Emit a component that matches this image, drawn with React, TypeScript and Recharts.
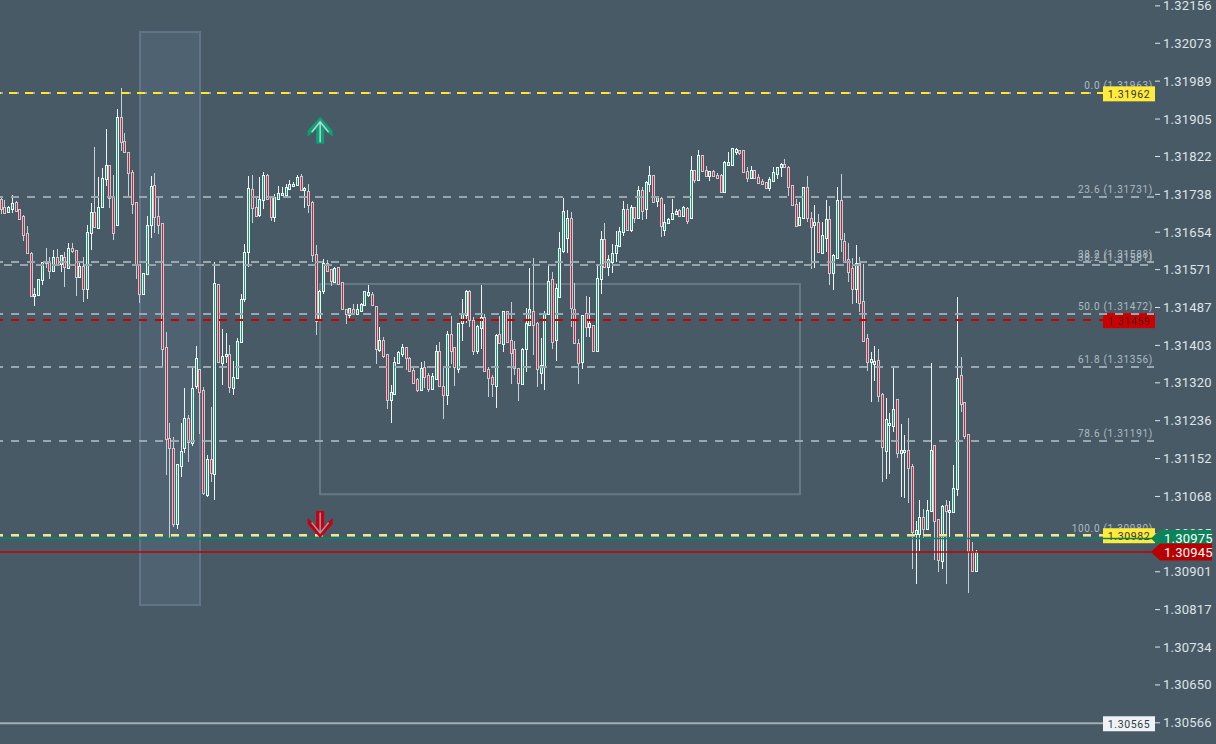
import {
  Bar,
  ComposedChart,
  ReferenceArea,
  ReferenceDot,
  ReferenceLine,
  XAxis,
  YAxis,
} from 'recharts';

// candle values are points above 1.30000
const opens = [
  1727,1709,1699,1706,1722,1705,1690,1652,1609,1513,
  1515,1547,1589,1588,1569,1598,1583,1600,1575,1618,
  1614,1555,1578,1527,1652,1698,1664,1711,1771,1802,
  1731,1671,1909,1856,1831,1787,1720,1583,1518,1561,
  1671,1758,1689,1674,1399,1197,1175,1008,1136,1176,
  1241,1187,1313,1350,1303,1071,1150,1117,1539,1365,
  1380,1385,1308,1331,1411,1507,1611,1749,1709,1693,
  1725,1780,1731,1687,1728,1737,1737,1750,1756,1759,
  1778,1747,1746,1722,1605,1459,1523,1585,1572,1544,
  1576,1543,1483,1470,1483,1473,1480,1492,1515,1518,
  1491,1393,1416,1385,1282,1296,1365,1384,1399,1375,
  1348,1328,1304,1355,1337,1307,1329,1391,1314,1294,
  1428,1399,1351,1452,1471,1524,1459,1391,1442,1467,
  1351,1332,1314,1428,1406,1479,1414,1396,1352,1318,
  1396,1448,1479,1453,1342,1356,1473,1550,1416,1511,
  1613,1641,1685,1483,1408,1367,1475,1444,1448,1391,
  1550,1640,1576,1589,1609,1624,1654,1705,1659,1709,
  1686,1747,1705,1762,1780,1724,1729,1659,1674,1683,
  1695,1703,1691,1708,1686,1792,1770,1825,1793,1779,
  1789,1781,1782,1744,1803,1803,1833,1836,1836,1789,
  1775,1792,1776,1768,1765,1752,1768,1784,1798,1805,
  1799,1759,1716,1670,1685,1754,1685,1671,1676,1609,
  1642,1683,1564,1596,1725,1635,1594,1574,1528,1585,
  1501,1419,1366,1362,1370,1295,1169,1227,1224,1284,
  1165,1167,1172,1135,985,985,1022,996,1036,1181,
  1017,925,1048,1034,1034,1084,1337,1277,1206,948,903,
];
const highs = [
  1733,1725,1712,1736,1724,1705,1692,1668,1610,1530,
  1550,1589,1618,1600,1614,1616,1603,1610,1629,1629,
  1614,1591,1600,1670,1718,1844,1776,1796,1884,1803,
  1780,1927,1973,1873,1833,1792,1722,1583,1563,1690,
  1778,1785,1734,1674,1433,1231,1200,1140,1230,1308,
  1248,1352,1402,1351,1310,1160,1266,1589,1540,1439,
  1431,1404,1368,1419,1518,1628,1779,1781,1733,1776,
  1787,1783,1733,1738,1756,1755,1762,1770,1766,1782,
  1783,1755,1762,1723,1626,1526,1594,1592,1572,1576,
  1577,1543,1484,1486,1495,1495,1496,1524,1536,1522,
  1491,1443,1422,1385,1315,1378,1390,1406,1399,1378,
  1352,1330,1366,1368,1341,1341,1403,1410,1352,1436,
  1468,1399,1452,1505,1526,1526,1465,1448,1536,1473,
  1354,1337,1428,1468,1479,1479,1500,1413,1353,1397,
  1487,1575,1596,1455,1419,1480,1581,1566,1539,1654,
  1730,1703,1699,1542,1418,1470,1512,1511,1448,1581,
  1657,1674,1603,1628,1657,1666,1724,1717,1714,1709,
  1756,1754,1768,1801,1781,1735,1733,1717,1686,1728,
  1705,1705,1712,1711,1823,1793,1836,1825,1801,1790,
  1793,1786,1783,1813,1833,1841,1840,1836,1836,1799,
  1801,1793,1783,1771,1766,1776,1798,1798,1808,1817,
  1801,1759,1728,1720,1754,1779,1698,1714,1694,1676,
  1725,1712,1606,1755,1783,1653,1629,1597,1626,1598,
  1583,1428,1388,1402,1394,1297,1286,1253,1356,1284,
  1229,1204,1243,1140,1013,1060,1040,1060,1365,1182,
  1018,1049,1060,1058,1138,1510,1377,1277,1206,966,949,
];
const lows = [
  1694,1694,1697,1697,1699,1681,1635,1606,1512,1490,
  1513,1538,1574,1550,1567,1580,1566,1532,1574,1607,
  1512,1552,1500,1506,1614,1665,1664,1711,1756,1707,
  1637,1671,1835,1829,1731,1694,1550,1498,1518,1561,
  1641,1653,1650,1357,1115,976,1001,996,1112,1164,
  1144,1180,1307,1206,1071,1067,1100,1060,1367,1315,
  1365,1297,1293,1330,1409,1500,1577,1674,1687,1688,
  1705,1725,1679,1677,1727,1736,1736,1750,1755,1758,
  1745,1707,1697,1589,1427,1459,1518,1566,1535,1543,
  1539,1481,1450,1463,1471,1470,1478,1491,1511,1492,
  1362,1389,1376,1262,1231,1294,1363,1378,1348,1347,
  1317,1300,1304,1308,1300,1307,1328,1311,1240,1271,
  1362,1313,1341,1413,1452,1444,1382,1385,1394,1345,
  1289,1289,1265,1409,1389,1410,1317,1337,1280,1317,
  1345,1446,1382,1311,1317,1304,1473,1396,1368,1510,
  1608,1608,1444,1408,1317,1350,1421,1422,1388,1391,
  1518,1576,1557,1564,1589,1624,1646,1659,1655,1675,
  1686,1681,1683,1744,1721,1709,1643,1646,1672,1683,
  1692,1690,1690,1672,1686,1764,1770,1789,1776,1768,
  1776,1774,1743,1743,1801,1801,1825,1825,1786,1765,
  1774,1774,1762,1760,1751,1745,1766,1772,1776,1798,
  1734,1714,1668,1668,1684,1677,1573,1575,1610,1608,
  1611,1537,1526,1596,1611,1588,1544,1495,1498,1477,
  1413,1346,1277,1325,1278,1101,1107,1118,1211,1153,
  1067,1065,1054,907,874,947,976,993,1036,927,
  901,906,874,979,1034,1069,1255,1195,854,903,903,
];
const closes = [
  1705,1697,1709,1718,1700,1684,1648,1607,1513,1518,
  1550,1587,1585,1567,1598,1583,1603,1577,1618,1612,
  1554,1578,1527,1654,1698,1666,1711,1774,1802,1729,
  1652,1909,1853,1831,1785,1716,1581,1518,1563,1671,
  1757,1687,1671,1396,1195,1175,1008,1140,1168,1241,
  1189,1308,1376,1300,1076,1150,1121,1541,1367,1379,
  1385,1310,1334,1413,1507,1611,1751,1707,1690,1727,
  1780,1727,1688,1731,1742,1742,1754,1760,1762,1776,
  1748,1751,1714,1603,1458,1524,1585,1569,1546,1574,
  1539,1483,1473,1485,1473,1483,1494,1523,1521,1493,
  1394,1416,1380,1281,1299,1367,1388,1399,1374,1347,
  1320,1304,1353,1333,1307,1335,1390,1314,1294,1428,
  1391,1354,1452,1474,1524,1459,1391,1447,1467,1347,
  1331,1317,1425,1409,1479,1410,1387,1352,1320,1396,
  1452,1483,1448,1350,1359,1474,1546,1411,1530,1618,
  1701,1685,1485,1408,1365,1470,1444,1452,1391,1552,
  1640,1576,1594,1609,1626,1656,1705,1660,1710,1686,
  1747,1702,1765,1780,1722,1731,1668,1677,1683,1696,
  1701,1691,1709,1679,1791,1770,1825,1790,1779,1789,
  1778,1775,1744,1809,1809,1840,1838,1830,1787,1775,
  1792,1775,1763,1762,1753,1771,1787,1798,1805,1799,
  1755,1715,1668,1687,1754,1685,1666,1676,1611,1648,
  1683,1564,1603,1725,1638,1589,1566,1528,1585,1498,
  1413,1367,1372,1369,1291,1178,1239,1232,1263,1165,
  1170,1172,1132,990,993,1022,996,1039,1170,1014,
  927,1046,1036,1039,1086,1330,1274,1203,947,903,945,
];

const axisTicks = [
  1.32156, 1.32073, 1.31989, 1.31905, 1.31822, 1.31738, 1.31654, 1.31571, 1.31487, 1.31403,
  1.3132, 1.31236, 1.31152, 1.31068, 1.30985, 1.30901, 1.30817, 1.30734, 1.3065, 1.30566,
];
const tagTicks = [1.30975, 1.30945];
const fibLevels = ['0.0', '23.6', '38.2', '38.2', '50.0', '61.8', '78.6', '100.0'];
const fibPrices = [1.31963, 1.31731, 1.31588, 1.31581, 1.31472, 1.31356, 1.31191, 1.3098];

const rows = opens.map((open, i) => ({
  index: i,
  open: 1.3 + open / 100000,
  close: 1.3 + closes[i] / 100000,
  range: [1.3 + lows[i] / 100000, 1.3 + highs[i] / 100000],
}));

const BG = '#485a66';
const FONT = 'Roboto, sans-serif';
const PRICE_DOMAIN = [1.30519, 1.32169];

function Candle({ x, y, width, height, payload }: any) {
  const [low, high] = payload.range;
  const k = Math.abs(height) / (high - low);
  const cx = Math.floor(x + width / 2) + 0.5;
  const up = payload.close >= payload.open;
  const top = Math.round(y + (high - Math.max(payload.open, payload.close)) * k);
  const bottom = Math.round(y + (high - Math.min(payload.open, payload.close)) * k);
  const edge = up ? '#f1f4f5' : '#c4ccd1';
  return (
    <g shapeRendering="crispEdges">
      <line x1={cx} x2={cx} y1={y} y2={y + Math.abs(height)} stroke={up ? '#eef2f3' : '#c6d0d6'} strokeWidth={1} />
      <rect
        x={cx - 1}
        y={top + 0.5}
        width={2}
        height={Math.max(bottom - top, 1)}
        fill={up ? '#0aa568' : '#d3213a'}
        stroke={edge}
        strokeWidth={1}
      />
    </g>
  );
}

function PriceTick({ x, y, payload }: any) {
  return (
    <g>
      <line x1={x + 1} x2={x + 6} y1={y} y2={y} stroke="#dfe4e7" strokeWidth={1} />
      <text x={x + 9} y={y + 4.5} fill="#dfe4e7" fontFamily={FONT} fontSize={13} letterSpacing={0.2}>
        {payload.value.toFixed(5)}
      </text>
    </g>
  );
}

function FibLabel({ viewBox, text }: any) {
  return (
    <text
      x={viewBox.x + viewBox.width - 1}
      y={viewBox.y - 4}
      textAnchor="end"
      fill="#aebac1"
      fontFamily={FONT}
      fontSize={10}
      letterSpacing={0.7}
    >
      {text}
    </text>
  );
}

function Badge({ viewBox, text, fill, color }: any) {
  const right = viewBox.x + viewBox.width;
  return (
    <g>
      <rect x={right - 51} y={viewBox.y - 7} width={52} height={15} fill={fill} />
      <text
        x={right - 25}
        y={viewBox.y + 4.5}
        textAnchor="middle"
        fill={color}
        fontFamily={FONT}
        fontSize={10.5}
        letterSpacing={0.6}
      >
        {text}
      </text>
    </g>
  );
}

// the two live prices sit on their own thin axis so they cover the normal ticks
function PriceTag({ x, y, payload }: any) {
  const left = x - 64;
  const fill = payload.value === tagTicks[0] ? '#0a8458' : '#b80000';
  const points = `${left},${y} ${left + 9},${y - 8.5} ${left + 61},${y - 8.5} ${left + 61},${y + 8.5} ${left + 9},${y + 8.5}`;
  return (
    <g>
      <polygon points={points} fill={fill} />
      <text x={left + 13} y={y + 5} fill="#ffffff" fontFamily={FONT} fontSize={13} letterSpacing={0.2}>
        {payload.value.toFixed(5)}
      </text>
    </g>
  );
}

function Arrow({ cx, cy, dir, fill, inner }: any) {
  return (
    <g transform={`translate(${cx},${cy}) scale(1,${dir})`}>
      <polygon points="0,-14 12.5,0 12.5,6 4,-1.5 4,13 -4,13 -4,-1.5 -12.5,6 -12.5,0" fill={fill} />
      <path d="M-8.5,1.5 L0,-9 L8.5,1.5 M0,-9 L0,11.5" fill="none" stroke={inner} strokeWidth={1.5} />
    </g>
  );
}

function dashedLevel(price: number, color: string, offset: number, label?: any) {
  return (
    <ReferenceLine
      key={`${price}-${color}`}
      y={price}
      stroke={color}
      strokeWidth={2}
      strokeDasharray="8 8"
      strokeDashoffset={offset}
      shapeRendering="crispEdges"
      label={label}
    />
  );
}

export default function App() {
  return (
    <div style={{ position: 'absolute', left: 0, top: 0, width: 1216, height: 744, background: BG, overflow: 'hidden' }}>
      <ComposedChart
        width={1216}
        height={744}
        data={rows}
        margin={{ top: 0, right: 0, bottom: 0, left: 0 }}
      >
        <XAxis dataKey="index" type="number" domain={[-0.373, 307.36]} hide />
        <YAxis
          orientation="right"
          width={61}
          domain={PRICE_DOMAIN}
          ticks={axisTicks}
          interval={0}
          axisLine={false}
          tickLine={false}
          tickSize={0}
          tickMargin={0}
          tick={<PriceTick />}
          allowDataOverflow
        />
        <YAxis
          yAxisId="tags"
          orientation="right"
          width={1}
          domain={PRICE_DOMAIN}
          ticks={tagTicks}
          interval={0}
          axisLine={false}
          tickLine={false}
          tickSize={0}
          tickMargin={0}
          tick={<PriceTag />}
          allowDataOverflow
        />
        <Bar dataKey="range" barSize={3} shape={<Candle />} isAnimationActive={false} />
        <ReferenceArea
          x1={36.96}
          x2={52.96}
          y1={1.30827}
          y2={1.32098}
          fill="#6a7f9c"
          fillOpacity={0.22}
          stroke="#62748a"
          strokeWidth={2}
          ifOverflow="visible"
        />
        <ReferenceArea
          x1={84.96}
          x2={212.96}
          y1={1.31073}
          y2={1.31539}
          fill="none"
          stroke="#667882"
          strokeWidth={2}
          ifOverflow="visible"
        />
        {fibPrices.map((price, i) =>
          dashedLevel(
            price,
            i === 3 ? '#96a3ab' : '#9aa7af',
            i === 3 ? -6 : 1,
            <FibLabel text={`${fibLevels[i]} (${price.toFixed(5)})`} />,
          ),
        )}
        {dashedLevel(1.31962, '#ffe81f', -1, <Badge text="1.31962" fill="#ffeb3b" color="#333333" />)}
        {dashedLevel(1.31459, '#cc0000', 1, <Badge text="1.31459" fill="#cc0000" color="#4a1f1f" />)}
        {dashedLevel(1.30982, '#f2e78c', 1, <Badge text="1.30982" fill="#ffeb3b" color="#333333" />)}
        {dashedLevel(1.31472, '#9aa7af', 1)}
        <ReferenceLine
          y={1.30565}
          stroke="#a2aeb5"
          strokeWidth={2}
          label={<Badge text="1.30565" fill="#eef2f5" color="#2e3a42" />}
        />
        <ReferenceLine y={1.30975} stroke="#0a8458" strokeWidth={1.5} />
        <ReferenceLine y={1.30945} stroke="#c40000" strokeWidth={1.5} />
        <ReferenceDot
          x={85}
          y={1.31879}
          ifOverflow="visible"
          shape={(p: any) => <Arrow {...p} dir={1} fill="#07a374" inner="#c3ced3" />}
        />
        <ReferenceDot
          x={85}
          y={1.31007}
          ifOverflow="visible"
          shape={(p: any) => <Arrow {...p} dir={-1} fill="#c8000f" inner="#929fa8" />}
        />
      </ComposedChart>
    </div>
  );
}
